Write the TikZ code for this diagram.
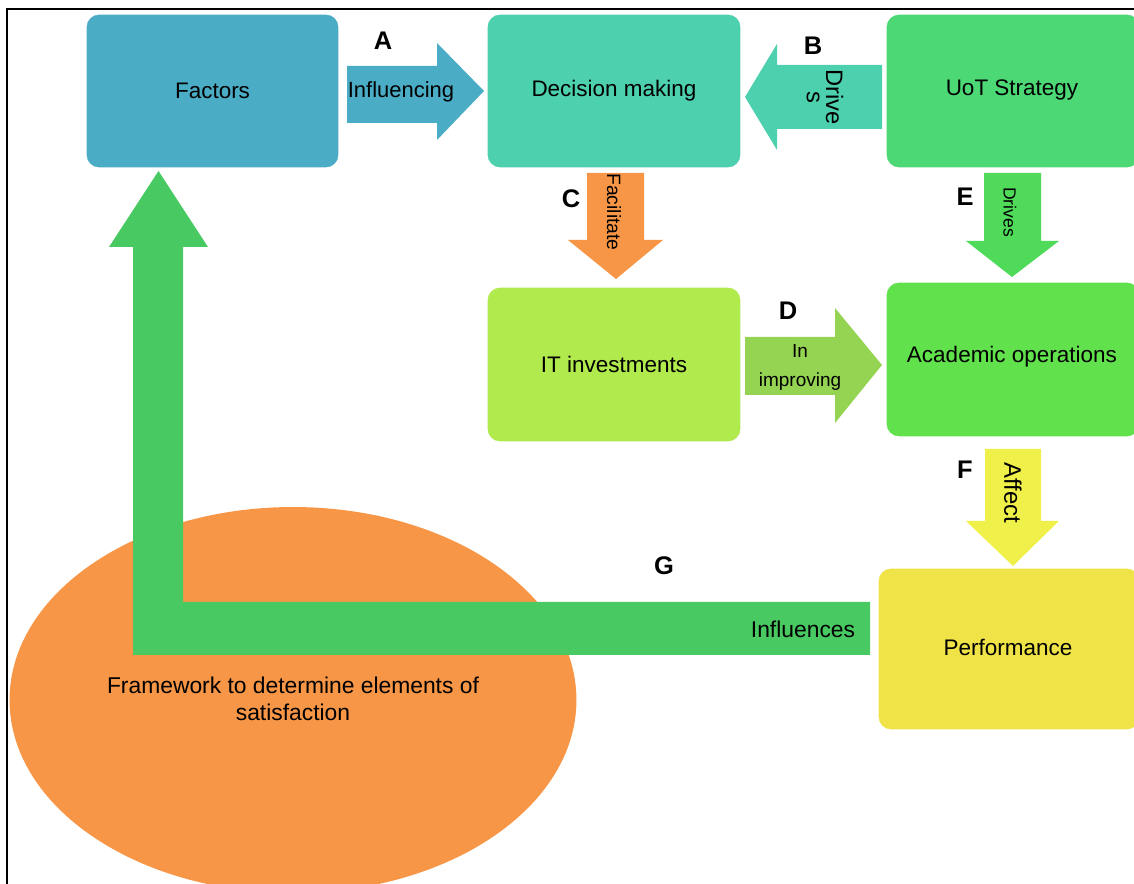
\documentclass[tikz,border=0pt]{standalone}
\usepackage{fontspec}
\setmainfont{Liberation Sans}
\usetikzlibrary{shapes.geometric}

\definecolor{cAqua}{HTML}{4BACC6}
\definecolor{cTeal}{HTML}{4DD0AE}
\definecolor{cUoT}{HTML}{4CD975}
\definecolor{cLime}{HTML}{B0EA4C}
\definecolor{cAcad}{HTML}{61E24C}
\definecolor{cPerf}{HTML}{F0E347}
\definecolor{cOrange}{HTML}{F79646}
\definecolor{cOlive}{HTML}{95D353}
\definecolor{cDrive}{HTML}{4FDA5A}
\definecolor{cYellow}{HTML}{F0F04A}
\definecolor{cInfl}{HTML}{49C962}

\tikzset{
  box/.style={draw=white, line width=0.6pt, rounded corners=0.26cm, inner sep=2pt,
    font=\fontsize{12.8}{15}\selectfont, text=black},
  tag/.style={font=\fontsize{14.5}{16}\selectfont\bfseries},
  arrowtext/.style={font=\fontsize{12.5}{15}\selectfont, align=center, inner sep=0pt},
}

\begin{document}
\begin{tikzpicture}[x=0.02cm, y=-0.02cm]
\useasboundingbox (0,0) rectangle (1134,884);
\clip (0,0) rectangle (1134,884);

% outer frame (left and top edges)
\draw[line width=1.6pt] (7,890) -- (7,9) -- (1140,9);

% framework ellipse
\node[ellipse, fill=cOrange, minimum width=11.34cm, minimum height=7.72cm, inner sep=0pt] (frame) at (293,700) {};

% process boxes
\node[box, fill=cAqua, minimum width=5.06cm, minimum height=3.08cm] (factors) at (212.5,91) {Factors};
\node[box, fill=cTeal, minimum width=5.08cm, minimum height=3.08cm] (decision) at (614,91) {Decision making};
\node[box, fill=cUoT, minimum width=5.08cm, minimum height=3.08cm] (uot) at (1013,91) {};
\node[box, fill=cLime, minimum width=5.08cm, minimum height=3.1cm] (it) at (614,364.5) {IT investments};
\node[box, fill=cAcad, minimum width=5.08cm, minimum height=3.1cm] (acad) at (1013,359.5) {};
\node[box, fill=cPerf, minimum width=5.24cm, minimum height=3.24cm] (perf) at (1009,649) {};
\node[font=\fontsize{12.8}{15}\selectfont] (uotlbl) at (1012,90) {UoT Strategy};
\node[font=\fontsize{12.8}{15}\selectfont] (acadlbl) at (1012,357) {Academic operations};
\node[font=\fontsize{12.8}{15}\selectfont] (perflbl) at (1008,647) {Performance};

% A: Factors -> Decision making
\fill[cAqua] (347,66) -- (437,66) -- (437,43) -- (484,91) -- (437,140) -- (437,123) -- (347,123) -- cycle;
% B: UoT Strategy -> Decision making
\fill[cTeal] (882,65) -- (777,65) -- (777,44) -- (745,97) -- (777,150) -- (777,129) -- (882,129) -- cycle;
% C: Decision making -> IT investments
\fill[cOrange] (587,173) -- (644,173) -- (644,240) -- (663,240) -- (616,279) -- (568,240) -- (587,240) -- cycle;
% D: IT investments -> Academic operations
\fill[cOlive] (745,337) -- (835,337) -- (835,308) -- (882,365) -- (835,423) -- (835,395) -- (745,395) -- cycle;
% E: UoT Strategy -> Academic operations
\fill[cDrive] (984,173) -- (1041,173) -- (1041,241) -- (1059,241) -- (1012,277) -- (966,241) -- (984,241) -- cycle;
% F: Academic operations -> Performance
\fill[cYellow] (985,449) -- (1041,449) -- (1041,521) -- (1059,521) -- (1013,566) -- (966,521) -- (985,521) -- cycle;
% G: Performance -> Factors (elbow arrow)
\fill[cInfl] (870,602) -- (183,602) -- (183,247) -- (208,247) -- (158.5,171) -- (109,247) -- (133,247) -- (133,655) -- (870,655) -- cycle;

% arrow captions
\node[arrowtext] (tA) at (401,92) {Influencing};
\node[arrowtext, rotate=-90, font=\fontsize{13.5}{11}\selectfont] (tB) at (825,97) {Drive\\s};
\node[arrowtext, rotate=-90, font=\fontsize{11}{13}\selectfont] (tC) at (614,212) {Facilitate};
\node[arrowtext, font=\fontsize{10.8}{16.5}\selectfont] (tD) at (800,367) {In\\improving};
\node[arrowtext, rotate=-90, font=\fontsize{10}{12}\selectfont] (tE) at (1010,212) {Drives};
\node[arrowtext, rotate=-90, font=\fontsize{13.6}{15}\selectfont] (tF) at (1013,493) {Affect};
\node[arrowtext, font=\fontsize{13}{15}\selectfont] (tG) at (803,629) {Influences};

% ellipse caption
\node[align=center, font=\fontsize{13}{15}\selectfont] (ftxt) at (293,699) {Framework to determine elements of\\satisfaction};

% relation letters
\node[tag] (lA) at (383,41) {A};
\node[tag] (lB) at (813,46) {B};
\node[tag] (lC) at (571,199) {C};
\node[tag] (lD) at (788,311) {D};
\node[tag] (lE) at (965,197) {E};
\node[tag] (lF) at (965,470) {F};
\node[tag] (lG) at (664,566) {G};
\end{tikzpicture}
\end{document}
